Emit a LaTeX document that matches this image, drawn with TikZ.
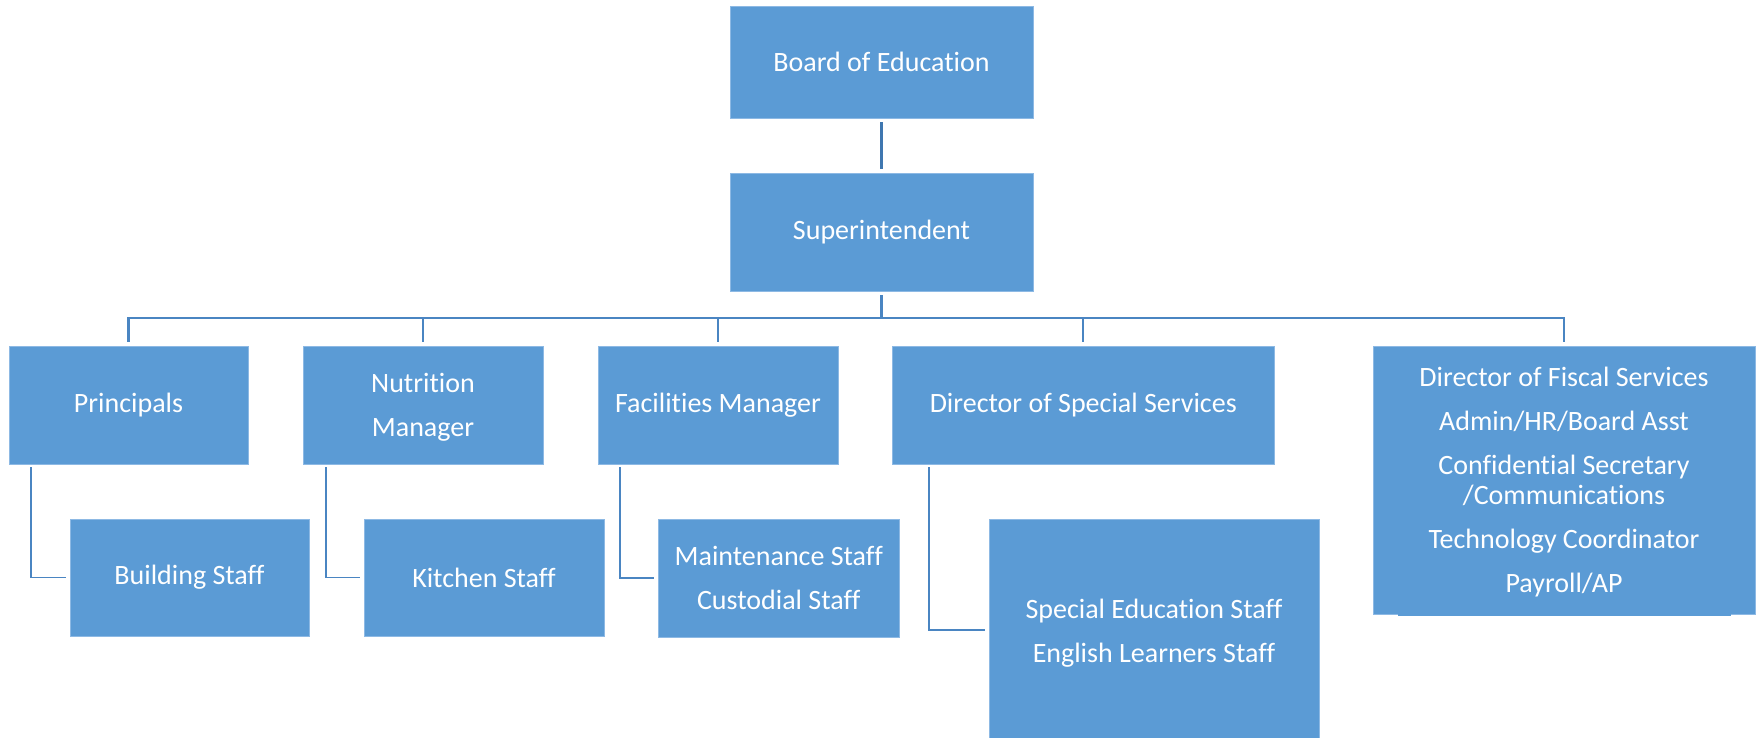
\documentclass[tikz,border=0pt]{standalone}
\usepackage{fontspec}
\setmainfont[Ligatures={NoCommon}]{Carlito}
\usetikzlibrary{calc}
\definecolor{boxblue}{HTML}{5B9BD5}
\definecolor{boxedge}{HTML}{8DB9E4}
\definecolor{linkblue}{HTML}{4A85C2}
\definecolor{topblue}{HTML}{3F77B0}
\tikzset{
  orgbox/.style={rectangle, fill=boxblue, draw=boxedge, line width=0.6pt,
    inner sep=0pt, text=white, align=center,
    font=\fontsize{28}{44}\selectfont},
  link/.style={draw=linkblue, line width=1.8pt},
  toplink/.style={draw=topblue, line width=3pt},
  buslink/.style={draw=linkblue, line width=2.2pt}
}
% a strut that pushes a centred text block a little lower
\newcommand\lowerstrut[1]{\rule{0pt}{#1}}
\begin{document}
\begin{tikzpicture}[x=1pt, y=-1pt]
  \useasboundingbox (0,0) rectangle (1756,738);

  % top of the chart
  \node[orgbox, minimum width=303pt, minimum height=112pt] (board) at (881.5,62) {Board of Education};
  \node[orgbox, minimum width=303pt, minimum height=118pt] (super) at (881.5,232) {Superintendent};

  % second level
  \node[orgbox, minimum width=239pt, minimum height=118pt] (princ) at (128.5,405) {Principals};
  \node[orgbox, minimum width=240pt, minimum height=118pt] (nutr)  at (423,405) {\lowerstrut{23pt}Nutrition\\Manager};
  \node[orgbox, minimum width=240pt, minimum height=118pt] (facil) at (718,405) {Facilities Manager};
  \node[orgbox, minimum width=381.5pt, minimum height=118pt] (dss) at (1083.25,405) {Director of Special Services};
  \node[orgbox, minimum width=382pt, minimum height=268pt] (fisc) at (1564,480)
    {\lowerstrut{24pt}Director of Fiscal Services\\Admin/HR/Board Asst\\Confidential Secretary\\[-14pt]/Communications\\Technology Coordinator\\Payroll/AP};
  \fill[boxblue] ($(fisc.south west)+(25,-1)$) rectangle ($(fisc.south east)+(-24,2)$);

  % third level
  \node[orgbox, minimum width=239pt, minimum height=117pt] (bldg)  at (189.5,577.5) {Building Staff};
  \node[orgbox, minimum width=240pt, minimum height=117pt] (kitch) at (484,577.5) {Kitchen Staff};
  \node[orgbox, minimum width=241.5pt, minimum height=118pt] (maint) at (778.75,578) {Maintenance Staff\\Custodial Staff};
  \node[orgbox, minimum width=330pt, minimum height=219pt] (sped) at (1154,628.5) {\lowerstrut{29pt}Special Education Staff\\English Learners Staff};

  % board to superintendent
  \draw[toplink] ([yshift=-4pt]board.south) -- ([yshift=4pt]super.north);

  % distribution bus under the superintendent
  \coordinate (busY) at (0,318);
  \draw[buslink] ([yshift=-4pt]super.south) -- (super.south |- busY);
  \draw[buslink, line join=miter] ([yshift=4pt]princ.north) -- (princ.north |- busY)
    -- (fisc.north |- busY) -- ([yshift=4pt]fisc.north);
  \foreach \n in {nutr, facil, dss}
    \draw[link] (\n.north |- busY) -- ([yshift=4pt]\n.north);

  % elbow links to staff boxes
  \draw[link, line join=miter] ($(princ.south west)+(22.5,3)$) |- ([xshift=-4pt]bldg.west);
  \draw[link, line join=miter] ($(nutr.south west)+(23,3)$) |- ([xshift=-4pt]kitch.west);
  \draw[link, line join=miter] ($(facil.south west)+(22,3)$) |- ([xshift=-4pt]maint.west);
  \draw[link, line join=miter] ($(dss.south west)+(36.5,3)$) |- ([xshift=-4pt,yshift=-1.5pt]sped.west);
\end{tikzpicture}
\end{document}
